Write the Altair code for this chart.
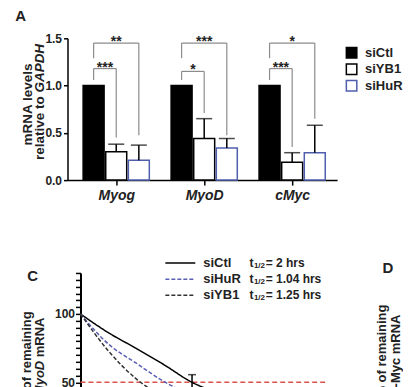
import altair as alt
import pandas as pd

FONT = "Liberation Sans"
BLUE_BAR = "#4f5fae"
BLUE_LINE = "#5a5fb5"
GREY = "#8c8c8c"
RED = "#d9534f"

# ---------------- Panel A data ----------------
genes = ["Myog", "MyoD", "cMyc"]
series_names = ["siCtl", "siYB1", "siHuR"]
ctl_mean = [1.0, 1.0, 1.0]
yb1_mean = [0.30, 0.44, 0.19]
hur_mean = [0.21, 0.34, 0.29]
yb1_err_top = [0.38, 0.65, 0.29]
hur_err_top = [0.37, 0.44, 0.58]
y_ticks_a = [0.0, 0.5, 1.0, 1.5]

bracket_gene = ["Myog", "Myog", "MyoD", "MyoD", "cMyc", "cMyc"]
bracket_to = ["siYB1", "siHuR", "siYB1", "siHuR", "siYB1", "siHuR"]
bracket_level = [1.18, 1.45, 1.15, 1.45, 1.18, 1.45]
bracket_left_end = [1.06, 1.29, 1.06, 1.29, 1.06, 1.29]
bracket_right_end = [0.45, 0.475, 0.71, 0.475, 0.35, 0.65]
bracket_label = ["***", "**", "*", "***", "***", "*"]

# ---------------- Panel C data ----------------
time_h = [0, 0.5, 1.0, 1.5, 2.0, 2.5, 3.0, 4.0]
ctl_remaining = [100, 86.3, 74.8, 62.8, 50.0, 42.0, 35.5, 25.0]
hur_remaining = [100, 78.0, 64.0, 50.5, 40.5, 32.0, 25.5, 16.5]
yb1_remaining = [100, 73.0, 52.5, 39.0, 29.0, 21.5, 16.0, 9.0]
line_names = ["siCtl", "siHuR", "siYB1"]
half_lives = ["2", "1.04", "1.25"]
ctl_err_time = [2.0]
ctl_err_low = [44.4]
ctl_err_high = [55.6]
half_level = [50]
time_range = [0, 4.44]

# ---------------- build tables ----------------
OFF = 0.257
means = [ctl_mean, yb1_mean, hur_mean]
bar_rows = []
for gi, g in enumerate(genes):
    for si, s in enumerate(series_names):
        bar_rows.append({"gene": g, "series": s, "pos": gi + (si - 1) * OFF,
                         "mean": means[si][gi]})
bars_df = pd.DataFrame(bar_rows)

err_rows = []
for si, tops in [(1, yb1_err_top), (2, hur_err_top)]:
    for gi, g in enumerate(genes):
        err_rows.append({"pos": gi + (si - 1) * OFF, "mean": means[si][gi], "top": tops[gi]})
err_df = pd.DataFrame(err_rows)

sidx = {s: i for i, s in enumerate(series_names)}
gidx = {g: i for i, g in enumerate(genes)}
br_rows = []
for g, to, lvl, le, re_, lab in zip(bracket_gene, bracket_to, bracket_level,
                                    bracket_left_end, bracket_right_end, bracket_label):
    x1 = gidx[g] - OFF
    x2 = gidx[g] + (sidx[to] - 1) * OFF
    br_rows.append({"x1": x1, "x2": x2, "xm": (x1 + x2) / 2, "level": lvl,
                    "left_end": le, "right_end": re_, "label": lab})
br_df = pd.DataFrame(br_rows)

one = pd.DataFrame({"k": [0]})

xa = alt.Scale(domain=[-0.497, 2.454], nice=False, zero=False)
ya = alt.Scale(domain=[0, 1.5], nice=False)
label_js = "[" + ",".join("'%s'" % g for g in genes) + "][datum.value]"
x_axis_a = alt.Axis(values=[0, 1, 2], labelExpr=label_js, title=None, tickSize=5,
                    tickWidth=1.5, domainWidth=1.5, domainColor="black", tickColor="black",
                    labelFont=FONT, labelFontSize=14, labelFontWeight="bold",
                    labelFontStyle="italic", labelPadding=3, labelColor="#222")
y_axis_a = alt.Axis(values=y_ticks_a, format=".1f", title=None, tickSize=4, tickWidth=1.5,
                    domainWidth=1.5, domainColor="black", tickColor="black",
                    labelFont=FONT, labelFontSize=12, labelFontWeight="bold",
                    labelPadding=2, labelColor="#222")

bars = alt.Chart(bars_df).mark_bar(size=21, strokeWidth=1.5).encode(
    x=alt.X("pos:Q", scale=xa, axis=x_axis_a),
    y=alt.Y("mean:Q", scale=ya, axis=y_axis_a),
    fill=alt.Fill("series:N", scale=alt.Scale(domain=series_names,
                                               range=["black", "white", "white"]),
                  legend=alt.Legend(title=None)),
    stroke=alt.Stroke("series:N", scale=alt.Scale(domain=series_names,
                                                   range=["black", "black", BLUE_BAR]),
                      legend=alt.Legend(title=None)),
)

err_line = alt.Chart(err_df).mark_rule(color="black", strokeWidth=1.5).encode(
    x=alt.X("pos:Q", scale=xa, axis=x_axis_a),
    y=alt.Y("mean:Q", scale=ya, axis=y_axis_a), y2="top:Q")
err_cap = alt.Chart(err_df).mark_tick(orient="horizontal", size=16, thickness=1.5,
                                      color="black").encode(
    x=alt.X("pos:Q", scale=xa, axis=x_axis_a),
    y=alt.Y("top:Q", scale=ya, axis=y_axis_a))

br_h = alt.Chart(br_df).mark_rule(color=GREY, strokeWidth=1.2).encode(
    x=alt.X("x1:Q", scale=xa, axis=x_axis_a), x2="x2:Q",
    y=alt.Y("level:Q", scale=ya, axis=y_axis_a))
br_l = alt.Chart(br_df).mark_rule(color=GREY, strokeWidth=1.2).encode(
    x=alt.X("x1:Q", scale=xa, axis=x_axis_a),
    y=alt.Y("level:Q", scale=ya, axis=y_axis_a), y2="left_end:Q")
br_r = alt.Chart(br_df).mark_rule(color=GREY, strokeWidth=1.2).encode(
    x=alt.X("x2:Q", scale=xa, axis=x_axis_a),
    y=alt.Y("level:Q", scale=ya, axis=y_axis_a), y2="right_end:Q")
stars = alt.Chart(br_df).mark_text(font=FONT, fontSize=14, fontWeight="bold",
                                   baseline="alphabetic", dy=3, color="#222").encode(
    x=alt.X("xm:Q", scale=xa, axis=x_axis_a),
    y=alt.Y("level:Q", scale=ya, axis=y_axis_a), text="label:N")

def txt(s, x, y, size=13, weight="bold", style="normal", angle=0, align="center",
        baseline="middle", dy=0, color="#222"):
    return alt.Chart(one).mark_text(text=s, font=FONT, fontSize=size, fontWeight=weight,
                                    fontStyle=style, angle=angle, align=align,
                                    baseline=baseline, dy=dy, color=color).encode(
        x=alt.value(x), y=alt.value(y))

a_texts = [
    txt("A", -47, -22.7, size=15),
    txt("mRNA levels", -39.5, 66.3, size=13.5, angle=270),
    txt("relative to", -28, 58.1, size=13.5, angle=270, align="right"),
    txt("GAPDH", -28, 5.6, size=13.5, angle=270, align="right", style="italic"),
]

panel_a = alt.layer(bars, err_line, err_cap, br_h, br_l, br_r, stars, *a_texts).properties(
    width=270, height=142)

# ---------------- Panel C ----------------
line_rows = []
for name, vals in zip(line_names, [ctl_remaining, hur_remaining, yb1_remaining]):
    for t, v in zip(time_h, vals):
        line_rows.append({"time": t, "remaining": v, "series": name})
lines_df = pd.DataFrame(line_rows)
err_c_df = pd.DataFrame({"time": ctl_err_time, "lo": ctl_err_low, "hi": ctl_err_high})
half_df = pd.DataFrame({"level": half_level, "t0": [time_range[0]], "t1": [time_range[1]]})

# plot area starts 13 px left of t = 0 (same column origin as panel A); axis moved onto t = 0
xc = alt.Scale(domain=[-0.2328, time_range[1]], nice=False, zero=False)
yc = alt.Scale(domain=[0, 130], nice=False)
x_axis_c = alt.Axis(values=[0, 1, 2, 3, 4], title="Time (hrs)", tickSize=5, tickWidth=1.5,
                    domainWidth=2, domainColor="black", tickColor="black",
                    labelFont=FONT, labelFontSize=12, labelFontWeight="bold",
                    titleFont=FONT, titleFontSize=13, titleFontWeight="bold")
y_axis_c = alt.Axis(values=list(range(0, 131, 5)),
                    labelExpr="datum.value % 50 == 0 ? datum.label : ''",
                    title=None, tickSize=5, tickWidth=1.5, domainWidth=2, offset=-13,
                    domainColor="black", tickColor="black", labelFont=FONT,
                    labelFontSize=12, labelFontWeight="bold", labelPadding=1,
                    labelColor="#222")

line_colors = ["black", BLUE_LINE, "#333333"]
line_dashes = [[1, 0], [4, 2], [4, 2]]
half_line = alt.Chart(half_df).mark_rule(color=RED, strokeDash=[5, 3], strokeWidth=1.5).encode(
    x=alt.X("t0:Q", scale=xc, axis=x_axis_c), x2="t1:Q",
    y=alt.Y("level:Q", scale=yc, axis=y_axis_c))
curves = alt.Chart(lines_df).mark_line(interpolate="monotone", strokeWidth=1.5).encode(
    x=alt.X("time:Q", scale=xc, axis=x_axis_c),
    y=alt.Y("remaining:Q", scale=yc, axis=y_axis_c),
    color=alt.Color("series:N", scale=alt.Scale(domain=line_names, range=line_colors),
                    legend=None),
    strokeDash=alt.StrokeDash("series:N", scale=alt.Scale(domain=line_names,
                                                          range=line_dashes), legend=None),
)
err_c = alt.Chart(err_c_df).mark_rule(color="black", strokeWidth=1.5).encode(
    x=alt.X("time:Q", scale=xc, axis=x_axis_c),
    y=alt.Y("lo:Q", scale=yc, axis=y_axis_c), y2="hi:Q")
cap_hi = alt.Chart(err_c_df).mark_tick(orient="horizontal", size=8, thickness=1.5,
                                       color="black").encode(
    x=alt.X("time:Q", scale=xc, axis=x_axis_c), y=alt.Y("hi:Q", scale=yc, axis=y_axis_c))
cap_lo = alt.Chart(err_c_df).mark_tick(orient="horizontal", size=8, thickness=1.5,
                                       color="black").encode(
    x=alt.X("time:Q", scale=xc, axis=x_axis_c), y=alt.Y("lo:Q", scale=yc, axis=y_axis_c))

legend_c = []
for i, (name, hl, col, dash) in enumerate(zip(line_names, half_lives, line_colors, line_dashes)):
    ry = -10 + 16.2 * i
    legend_c.append(alt.Chart(one).mark_rule(color=col, strokeDash=dash, strokeWidth=1.5).encode(
        x=alt.value(98), x2=alt.value(128), y=alt.value(ry)))
    legend_c.append(txt(name, 136, ry, size=13, align="left"))
    legend_c.append(txt("t", 182.3, ry, size=12, align="left"))
    legend_c.append(txt("1/2", 186.7, ry, size=8, align="left", dy=3))
    legend_c.append(txt("= %s hrs" % hl, 198.5, ry, size=12, align="left"))

c_texts = [
    txt("C", -35, 2.7, size=15),
    txt("% of remaining", -41, 38.4, angle=270, align="right"),
    txt("mRNA", -28, 44.7, angle=270, align="right"),
    txt("MyoD", -28, 88, angle=270, align="right", style="italic"),
    txt("D", 321, -5.3, size=15),
    txt("% of remaining", 315, 31.7, angle=270, align="right"),
    txt("c-Myc mRNA", 328.5, 41.7, angle=270, align="right"),
]

panel_c = alt.layer(half_line, curves, err_c, cap_hi, cap_lo, *legend_c, *c_texts).properties(
    width=261, height=178)

chart = alt.vconcat(panel_a, panel_c, spacing=55).resolve_scale(
    color="independent", fill="independent", stroke="independent",
    strokeDash="independent").properties(
    padding={"left": 6.6, "top": 0, "right": 0, "bottom": 0}
).configure(padding={"left": 6.6, "top": 0, "right": 0, "bottom": 0}
).configure_view(stroke=None).configure_axis(grid=False).configure_legend(
    orient="none", legendX=278, legendY=8, symbolType="square", symbolSize=110,
    symbolStrokeWidth=1.5, labelFont=FONT, labelFontSize=13, labelFontWeight="bold",
    labelColor="#222", rowPadding=-0.5, labelOffset=7, padding=0)

chart.save("out.html", embed_options={"renderer": "svg", "actions": False})
